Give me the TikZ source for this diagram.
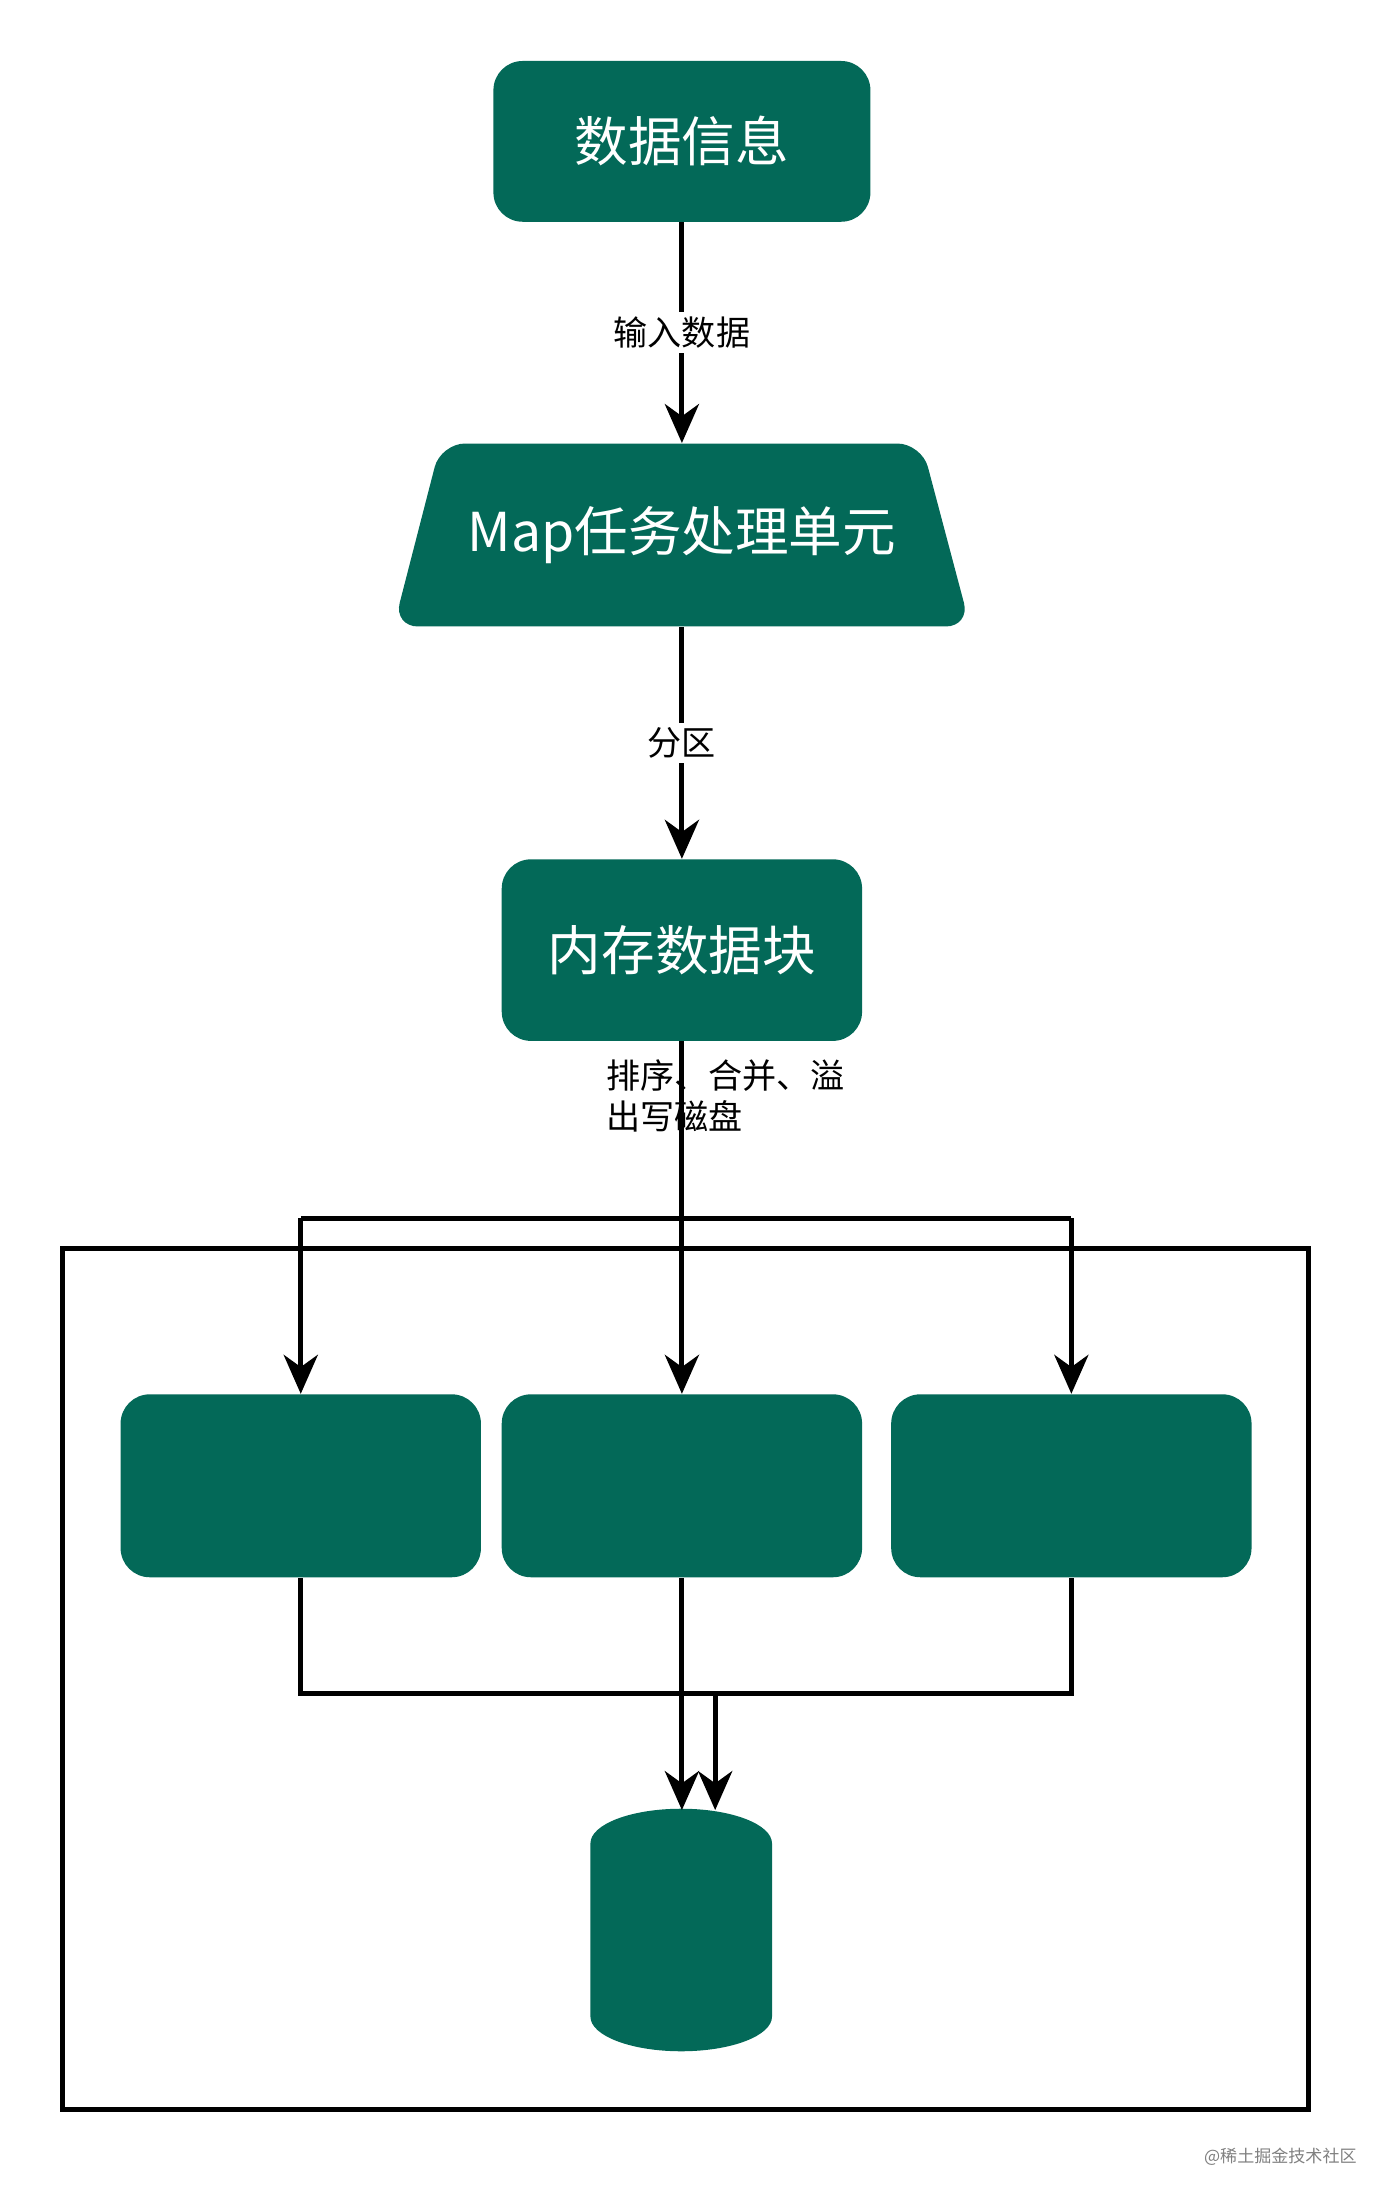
\documentclass[tikz,border=0pt]{standalone}
\usepackage{fontspec}
\setmainfont{Noto Sans CJK SC}
\usetikzlibrary{shapes.geometric,arrows.meta}
\definecolor{tealbox}{HTML}{036958}
\begin{document}
\begin{tikzpicture}[x=0.02cm,y=-0.02cm,
  box/.style={fill=tealbox,draw=none,rounded corners=12pt,text=white,font=\fontsize{22}{26}\selectfont,inner sep=0pt},
  conn/.style={line width=2.1pt,-{Stealth[length=16pt,width=14pt,inset=5pt]}},
  wire/.style={line width=2.1pt},
  lbl/.style={font=\fontsize{14}{17}\selectfont,fill=white,inner sep=2pt}]
\useasboundingbox (0,0) rectangle (1000,1586.6);
\node[box,minimum width=272*0.02cm,minimum height=116*0.02cm] (info) at (492,102) {数据信息};
\fill[tealbox,rounded corners=10pt] (318,320) -- (665,320) -- (700,452) -- (284,452) -- cycle;
\node[text=white,font=\fontsize{22}{26}\selectfont,minimum width=347*0.02cm,minimum height=132*0.02cm,inner sep=0pt] (map) at (492,386) {Map任务处理单元};
\node[box,minimum width=260*0.02cm,minimum height=131*0.02cm] (mem) at (492,685.5) {内存数据块};
\draw[wire] (45,901) rectangle (944,1522);
\node[box,minimum width=260*0.02cm,minimum height=132*0.02cm] (b1) at (217,1072) {};
\node[box,minimum width=260*0.02cm,minimum height=132*0.02cm] (b2) at (492,1072) {};
\node[box,minimum width=260*0.02cm,minimum height=132*0.02cm] (b3) at (773,1072) {};
\fill[tealbox] (426,1330) arc[start angle=180,end angle=360,x radius=65.5,y radius=25] -- (557,1455) arc[start angle=0,end angle=180,x radius=65.5,y radius=25] -- cycle;
\coordinate (db1) at (492,1306);
\coordinate (db2) at (516,1306);
\draw[conn] (info) -- node[lbl]{输入数据} (map);
\draw[conn] (map) -- node[lbl]{分区} (mem);
\draw[conn] (mem) -- (b2);
\draw[wire] (217,879) -- (773,879);
\draw[conn] (217,879) -- (b1.north);
\draw[conn] (773,879) -- (b3.north);
\node[font=\fontsize{14}{17}\selectfont,align=left,anchor=north west,inner sep=0pt] (sortlbl) at (437,764) {排序、合并、溢\\ 出写磁盘};
\draw[wire] (b1.south) -- (217,1222) -- (773,1222) -- (b3.south);
\draw[conn] (b2) -- (db1);
\draw[conn] (516,1222) -- (db2);
\node[font=\fontsize{7}{8}\selectfont,text=gray,anchor=east] (wm) at (985,1556) {@稀土掘金技术社区};
\end{tikzpicture}
\end{document}
